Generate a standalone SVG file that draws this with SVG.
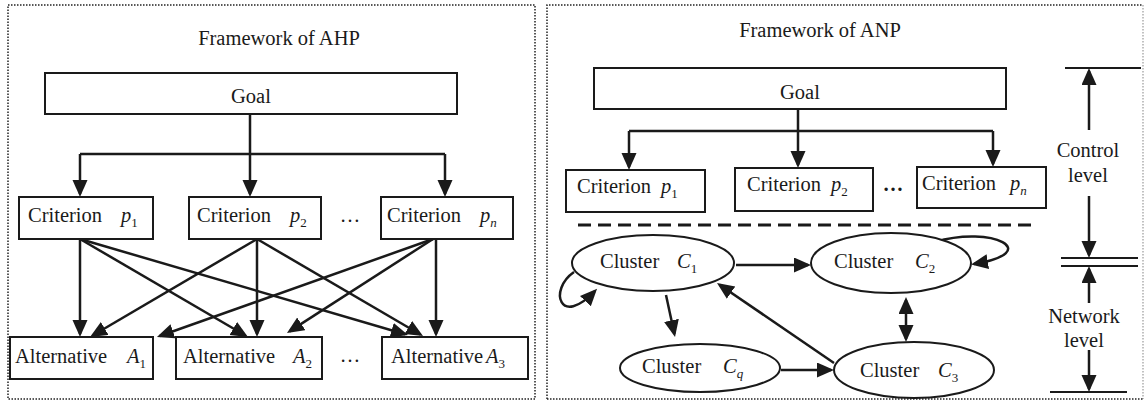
<svg xmlns="http://www.w3.org/2000/svg" width="1146" height="405" viewBox="0 0 1146 405">
<style>
.t{font-family:"Liberation Serif","Times New Roman",serif;font-size:20.5px;fill:#1a1a1a}
.i{font-style:italic}
.sub{font-size:13px}
.box{fill:#fff;stroke:#1a1a1a;stroke-width:2}
.ell{fill:#fff;stroke:#1a1a1a;stroke-width:2}
.panel{fill:none;stroke:#222;stroke-width:1.5;stroke-dasharray:1.5 1.5}
.c{fill:none;stroke:#1a1a1a;stroke-width:2.5}
.ca{fill:none;stroke:#1a1a1a;stroke-width:2.5;marker-end:url(#ah)}
.plain{fill:none;stroke:#1a1a1a;stroke-width:2}
</style>
<defs>
<marker id="ah" markerUnits="userSpaceOnUse" markerWidth="18" markerHeight="16" refX="14" refY="7.5" orient="auto-start-reverse" viewBox="0 0 18 16">
<path d="M0,0 L17,7.5 L0,15 z" fill="#1a1a1a"/>
</marker>
</defs>
<rect width="1146" height="405" fill="#fff"/>
<g id="panels">
<rect class="panel" x="8" y="5" width="527" height="394"/>
<path class="panel" d="M547,399 V5 H1143"/>
<path d="M1143,5 V399" fill="none" stroke="#999" stroke-width="1.2" stroke-dasharray="1.5 1.5"/>
<path class="panel" d="M547,399 H1143"/>
<text class="t" x="279" y="45" text-anchor="middle">Framework of AHP</text>
<text class="t" x="820" y="37" text-anchor="middle">Framework of ANP</text>
</g>
<g id="connectors">
<path class="c" d="M250,114 V154 M80,154 H445"/>
<path class="ca" d="M80,154 V194"/>
<path class="ca" d="M250,154 V194"/>
<path class="ca" d="M445,154 V194"/>
<path class="ca" d="M80,239 V334"/>
<path class="ca" d="M80,239 L245.4,335.5"/>
<path class="ca" d="M80,239 L405.1,334.2"/>
<path class="ca" d="M257,239 L92.6,335.5"/>
<path class="ca" d="M257,239 V334"/>
<path class="ca" d="M257,239 L420.4,334.5"/>
<path class="ca" d="M433,239 L159.8,336"/>
<path class="ca" d="M433,239 L289.5,331.4"/>
<path class="ca" d="M436,239 V334"/>
<path class="c" d="M798,109 V131 M629,131 H993"/>
<path class="ca" d="M629,131 V167"/>
<path class="ca" d="M798,131 V165"/>
<path class="ca" d="M993,131 V164"/>
<path d="M578,225 H1037" fill="none" stroke="#1a1a1a" stroke-width="3" stroke-dasharray="13 7"/>
<path class="ca" d="M736,265 H808"/>
<path class="ca" d="M935,242 C992,225 1045,252 974,264"/>
<path class="ca" d="M574,272 C548,290 560,328 595,291"/>
<path class="ca" d="M666,295 L674.4,334.1"/>
<path class="ca" d="M781,370 H831"/>
<path class="ca" d="M834,363 L719.5,284.7"/>
<path class="ca" d="M906,300 V339" marker-start="url(#ah)"/>
<path class="plain" d="M1065,68 H1141"/>
<path class="ca" d="M1089,130 V71"/>
<path class="ca" d="M1089,196 V255"/>
<path class="plain" d="M1061,258 H1138 M1061,266 H1138"/>
<path class="ca" d="M1089,303 V269"/>
<path class="ca" d="M1089,350 V389"/>
<path class="plain" d="M1050,392 H1127"/>
</g>
<g id="ahp-goal"><rect class="box" x="45" y="73" width="412" height="41"/><text class="t" x="251" y="103" text-anchor="middle">Goal</text></g>
<g id="ahp-crit1"><rect class="box" x="19" y="197" width="134" height="42"/><text class="t" x="28" y="222">Criterion<tspan class="i" x="121">p</tspan><tspan class="sub" dy="5">1</tspan></text></g>
<g id="ahp-crit2"><rect class="box" x="189" y="197" width="132" height="42"/><text class="t" x="197" y="222">Criterion<tspan class="i" x="290">p</tspan><tspan class="sub" dy="5">2</tspan></text></g>
<g id="ahp-dots1"><text class="t" x="350" y="222" text-anchor="middle">…</text></g>
<g id="ahp-critn"><rect class="box" x="381" y="197" width="132" height="42"/><text class="t" x="387" y="222">Criterion<tspan class="i" x="480">p</tspan><tspan class="sub i" dy="5">n</tspan></text></g>
<g id="ahp-alt1"><rect class="box" x="10" y="337" width="143" height="42"/><text class="t" x="15" y="363">Alternative<tspan class="i" x="127">A</tspan><tspan class="sub" dy="5">1</tspan></text></g>
<g id="ahp-alt2"><rect class="box" x="176" y="337" width="146" height="42"/><text class="t" x="183" y="363">Alternative<tspan class="i" x="293">A</tspan><tspan class="sub" dy="5">2</tspan></text></g>
<g id="ahp-dots2"><text class="t" x="350" y="362" text-anchor="middle">…</text></g>
<g id="ahp-alt3"><rect class="box" x="382" y="337" width="146" height="42"/><text class="t" x="391" y="363" font-size="19">Alternative<tspan class="i" x="486">A</tspan><tspan class="sub" dy="5">3</tspan></text></g>
<g id="anp-goal"><rect class="box" x="594" y="68" width="412" height="41"/><text class="t" x="800" y="99" text-anchor="middle">Goal</text></g>
<g id="anp-crit1"><rect class="box" x="566" y="170" width="139" height="42"/><text class="t" x="577" y="193">Criterion<tspan class="i" x="661">p</tspan><tspan class="sub" dy="5">1</tspan></text></g>
<g id="anp-crit2"><rect class="box" x="735" y="168" width="138" height="43"/><text class="t" x="747" y="191">Criterion<tspan class="i" x="831">p</tspan><tspan class="sub" dy="5">2</tspan></text></g>
<g id="anp-dots"><text class="t" x="893" y="191" text-anchor="middle" font-weight="bold">…</text></g>
<g id="anp-critn"><rect class="box" x="917" y="167" width="129" height="41"/><text class="t" x="922" y="190">Criterion<tspan class="i" x="1010">p</tspan><tspan class="sub i" dy="5">n</tspan></text></g>
<g id="cluster1"><ellipse class="ell" cx="653" cy="263" rx="81" ry="28"/><text class="t" x="600" y="268">Cluster<tspan class="i" x="677">C</tspan><tspan class="sub" dy="5">1</tspan></text></g>
<g id="cluster2"><ellipse class="ell" cx="891" cy="263" rx="80" ry="30"/><text class="t" x="834" y="268">Cluster<tspan class="i" x="915">C</tspan><tspan class="sub" dy="5">2</tspan></text></g>
<g id="clusterq"><ellipse class="ell" cx="700" cy="368" rx="80" ry="24"/><text class="t" x="642" y="373">Cluster<tspan class="i" x="723">C</tspan><tspan class="sub i" dy="5">q</tspan></text></g>
<g id="cluster3"><ellipse class="ell" cx="914" cy="370" rx="80" ry="28"/><text class="t" x="860" y="377">Cluster<tspan class="i" x="938">C</tspan><tspan class="sub" dy="5">3</tspan></text></g>
<g id="levels">
<text class="t" x="1088" y="157" text-anchor="middle">Control</text>
<text class="t" x="1088" y="182" text-anchor="middle">level</text>
<text class="t" x="1084" y="323" text-anchor="middle">Network</text>
<text class="t" x="1084" y="347" text-anchor="middle">level</text>
</g>
</svg>
